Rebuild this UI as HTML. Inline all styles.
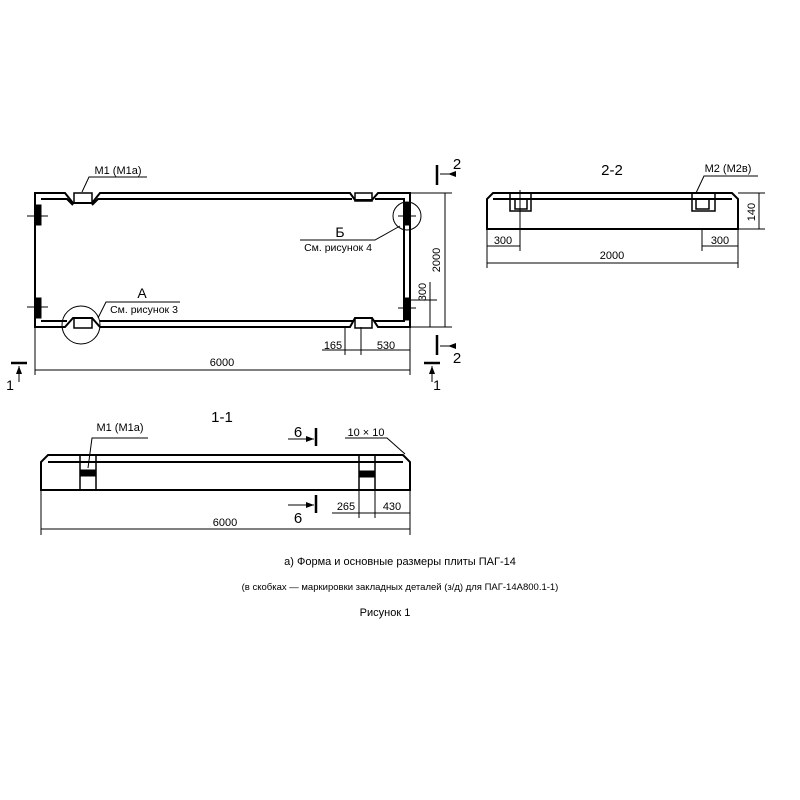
<!DOCTYPE html>
<html><head><meta charset="utf-8"><style>
html,body{margin:0;padding:0;background:#fff;}
svg{display:block;font-family:"Liberation Sans",Arial,sans-serif;}
</style></head><body>
<svg width="800" height="800" viewBox="0 0 800 800" xmlns="http://www.w3.org/2000/svg">
<defs>
<marker id="t" markerWidth="8" markerHeight="8" refX="4" refY="4" orient="auto"><path d="M1,7 L7,1" stroke="#000" stroke-width="1"/></marker>
</defs>
<g fill="none" stroke="#000">
<!-- plan view -->
<path d="M35,193 H65 L73,203 H92 L100,193 H350 L355,200 H372 L378,193 H410 V327 H378 L372,318 H355 L350,327 H100 L92,318 H73 L65,327 H35 Z" stroke-width="2"/>
<path d="M41,199 H67 L73,205 M92,205 L98,199 H352 M375,199 H404 V321 H374 M353,321 H100 M67,321 H41 Z" stroke-width="2"/>
<rect x="74" y="193" width="18" height="10" stroke-width="1.5"/>
<rect x="355" y="193" width="17" height="8" stroke-width="1.5"/>
<rect x="74" y="318" width="18" height="10" stroke-width="1.5"/>
<rect x="355" y="318" width="17" height="10" stroke-width="1.5"/>
<rect x="36" y="205" width="5" height="20" fill="#000"/>
<rect x="36" y="298" width="5" height="20" fill="#000"/>
<rect x="404" y="203" width="5" height="22" fill="#000"/>
<rect x="404" y="298" width="5" height="22" fill="#000"/>
<path d="M27,216 H48 M27,307 H48 M398,216 H416 M398,308 H416" stroke-width="1"/>
<circle cx="407" cy="216" r="14" stroke-width="1"/>
<circle cx="81" cy="325" r="19" stroke-width="1"/>
<!-- leaders -->
<path d="M82,192 L89,177 H147" stroke-width="1"/>
<path d="M400,226 L375,240 H300" stroke-width="1"/>
<path d="M98,318 L106,302 H180" stroke-width="1"/>
<!-- dims plan -->
<path d="M35,327 V375 M410,327 V375 M35,370 H410" stroke-width="1"/>
<path d="M410,193 H452 M410,327 H452 M445,193 V327" stroke-width="1"/>
<path d="M410,300 H437 M430,282 V327" stroke-width="1"/>
<path d="M345,327 V355 M361,327 V355 M322,350 H410" stroke-width="1"/>
<!-- section marks plan -->
<path d="M437,165 V185 M437,335 V355 M11,363 H27 M424,363 H440" stroke-width="2.5"/>
<path d="M456,174 H440 M456,346 H440 M19,382 V366 M432,382 V366" stroke-width="1"/>
<!-- 2-2 -->
<path d="M487,229 V199 L493,193 H732 L738,199 V229 Z" stroke-width="2"/>
<path d="M493,199 H732" stroke-width="2"/>
<rect x="510" y="193" width="21" height="18" stroke-width="1.5"/>
<rect x="515" y="199" width="12" height="10" stroke-width="1.5"/>
<rect x="692" y="193" width="23" height="18" stroke-width="1.5"/>
<rect x="696" y="199" width="13" height="10" stroke-width="1.5"/>
<path d="M696,193 L704,176 H758" stroke-width="1"/>
<path d="M738,193 H765 M738,229 H765 M759,193 V229" stroke-width="1"/>
<path d="M487,229 V268 M738,229 V268 M520,190 V251 M702,229 V251 M487,246 H520 M702,246 H738 M487,263 H738" stroke-width="1"/>
<!-- 1-1 -->
<path d="M41,490 V462 L48,455 H403 L410,462 V490 Z" stroke-width="2"/>
<path d="M48,462 H403" stroke-width="2"/>
<rect x="80" y="455" width="16" height="35" stroke-width="1.5"/>
<rect x="80" y="470" width="16" height="6" fill="#000"/>
<rect x="359" y="455" width="16" height="35" stroke-width="1.5"/>
<rect x="359" y="471" width="16" height="6" fill="#000"/>
<path d="M88,468 L92,438 H148" stroke-width="1"/>
<path d="M405,454 L387,438 H345" stroke-width="1"/>
<path d="M316,428 V446 M316,495 V513" stroke-width="2.5"/>
<path d="M288,439 H314 M288,505 H314" stroke-width="1"/>
<path d="M359,490 V518 M375,490 V518 M410,490 V535 M41,490 V535 M332,513 H410 M41,529 H410" stroke-width="1"/>
</g>
<g fill="#000">
<path d="M456,171 L448,174 L456,177Z M456,343 L448,346 L456,349Z M16,374 L19,366 L22,374Z M429,374 L432,366 L435,374Z M306,436 L314,439 L306,442Z M306,502 L314,505 L306,508Z"/>
</g>
<g font-size="11" text-anchor="middle">
<text x="118" y="174">М1 (М1а)</text>
<text x="338" y="251" font-size="10.5">См. рисунок 4</text>
<text x="340" y="237" font-size="14">Б</text>
<text x="142" y="298" font-size="14">А</text>
<text x="144" y="313" font-size="10.5">См. рисунок 3</text>
<text x="222" y="366">6000</text>
<text x="333" y="349">165</text>
<text x="386" y="349">530</text>
<text x="440" y="260" transform="rotate(-90 440 260)">2000</text>
<text x="426" y="292" transform="rotate(-90 426 292)">300</text>
<text x="457" y="169" font-size="15">2</text>
<text x="457" y="363" font-size="15">2</text>
<text x="10" y="390" font-size="14">1</text>
<text x="437" y="390" font-size="14">1</text>
<text x="612" y="175" font-size="15">2-2</text>
<text x="728" y="172">М2 (М2в)</text>
<text x="755" y="212" transform="rotate(-90 755 212)">140</text>
<text x="503" y="244">300</text>
<text x="720" y="244">300</text>
<text x="612" y="259">2000</text>
<text x="222" y="422" font-size="15">1-1</text>
<text x="120" y="431">М1 (М1а)</text>
<text x="366" y="436">10 × 10</text>
<text x="298" y="437" font-size="15">6</text>
<text x="298" y="523" font-size="15">6</text>
<text x="346" y="510">265</text>
<text x="392" y="510">430</text>
<text x="225" y="526">6000</text>
<text x="400" y="565" font-size="11">а)  Форма и основные размеры плиты ПАГ-14</text>
<text x="400" y="590" font-size="9.5">(в скобках — маркировки закладных деталей (з/д) для ПАГ-14А800.1-1)</text>
<text x="385" y="616" font-size="11">Рисунок 1</text>
</g>
</svg>
</body></html>
